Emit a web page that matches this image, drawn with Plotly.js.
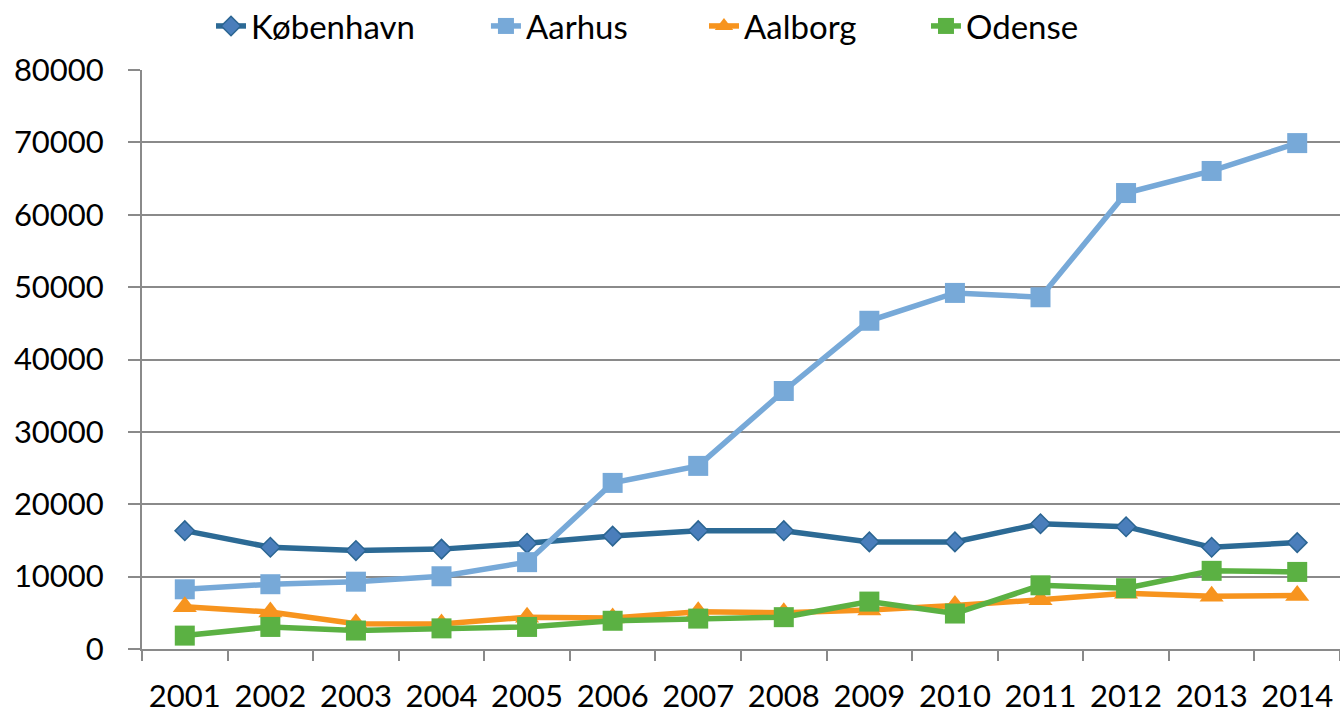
<!DOCTYPE html>
<html>
<head>
<meta charset="utf-8">
<script src="https://cdn.plot.ly/plotly-3.0.1.min.js"></script>
<style>html,body{margin:0;padding:0;background:#fff;}#chart{width:1340px;height:713px;}</style>
</head>
<body>
<div id="chart"></div>
<script>
const years = ['2001','2002','2003','2004','2005','2006','2007','2008','2009','2010','2011','2012','2013','2014'];
const kobenhavn = [16350, 14050, 13600, 13800, 14600, 15600, 16350, 16350, 14800, 14800, 17300, 16900, 14050, 14700];
const aarhus    = [8250, 8950, 9300, 10050, 12000, 22950, 25300, 35650, 45350, 49200, 48600, 63000, 66050, 69900];
const aalborg   = [5850, 5100, 3500, 3450, 4400, 4300, 5150, 5000, 5400, 6000, 6800, 7700, 7300, 7400];
const odense    = [1850, 3050, 2550, 2850, 3050, 3900, 4200, 4400, 6550, 4900, 8800, 8400, 10800, 10650];

const FONT = 'Lato, "Open Sans", sans-serif';
const GRID = '#8a8a8a';

const traces = [
  {name:'København', x:years, y:kobenhavn, mode:'lines+markers', type:'scatter', legend:'legend',
   line:{color:'#2C6A95', width:5.5},
   marker:{symbol:'diamond', size:15, color:'#4A7EBB', line:{color:'#2B6592', width:1.5}}},
  {name:'Aarhus', x:years, y:aarhus, mode:'lines+markers', type:'scatter', legend:'legend2',
   line:{color:'#77A9D8', width:5.5},
   marker:{symbol:'square', size:20, color:'#77A9D8'}},
  {name:'Aalborg', x:years, y:aalborg, mode:'lines+markers', type:'scatter', legend:'legend3',
   line:{color:'#F7941E', width:5.5},
   marker:{symbol:'triangle-up', size:21, color:'#F7941E'}},
  {name:'Odense', x:years, y:odense, mode:'lines+markers', type:'scatter', legend:'legend4',
   line:{color:'#5BB143', width:5.5},
   marker:{symbol:'square', size:20, color:'#5BB143'}}
];

function leg(x){
  return {orientation:'h', x:x, xanchor:'left', y:1.076, yanchor:'middle', bgcolor:'rgba(0,0,0,0)',
          font:{family:FONT, size:33, color:'#000'}, itemwidth:30};
}

const layout = {
  width:1340, height:713,
  margin:{l:142, r:0, t:70, b:64, autoexpand:false},
  paper_bgcolor:'#fff', plot_bgcolor:'#fff',
  font:{family:FONT, size:31, color:'#000'},
  showlegend:true,
  legend:leg(0.0576), legend2:leg(0.2871), legend3:leg(0.4691), legend4:leg(0.6544),
  xaxis:{type:'category', range:[-0.5, 13.5], autorange:false, tickson:'boundaries', ticks:'outside', ticklen:10, tickwidth:2,
         tickcolor:GRID, showline:true, linecolor:GRID, linewidth:2, showgrid:false,
         tickangle:0, automargin:false,
         ticklabelstandoff:19, tickfont:{family:FONT, size:31, color:'#000'}, fixedrange:true},
  yaxis:{range:[0,80000], dtick:10000, tick0:0, ticks:'outside', ticklen:12, tickwidth:2,
         tickcolor:GRID, showline:true, linecolor:GRID, linewidth:2, showgrid:true,
         gridcolor:GRID, gridwidth:2, zeroline:false, ticklabelstandoff:18, automargin:false,
         tickformat:'d',
         tickfont:{family:FONT, size:31, color:'#000'}, fixedrange:true}
};

Plotly.newPlot('chart', traces, layout, {displayModeBar:false, staticPlot:true});
</script>
</body>
</html>
